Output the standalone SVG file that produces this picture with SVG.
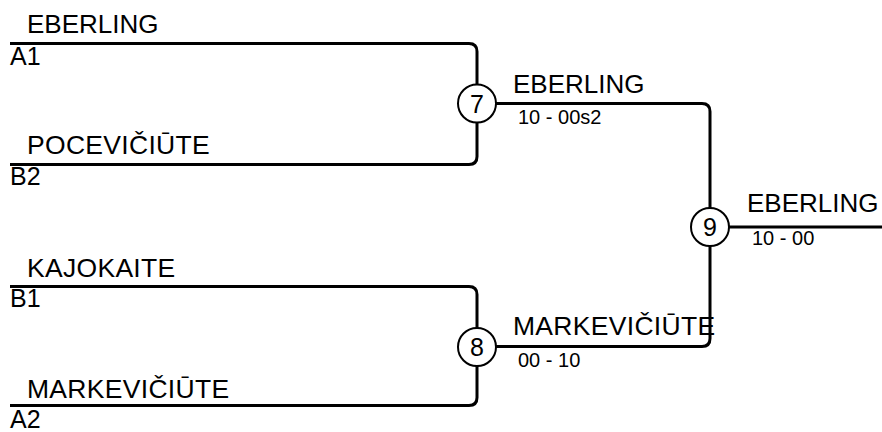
<svg xmlns="http://www.w3.org/2000/svg" width="882" height="432" viewBox="0 0 882 432">
<style>
.ln{fill:none;stroke:#000;stroke-width:3}
.c{fill:#fff;stroke:#000;stroke-width:2}
text{font-family:"Liberation Sans",Arial,sans-serif;fill:#000}
.nm{font-size:26.5px;letter-spacing:0.3px}
.nm.e{font-size:26px;letter-spacing:0}
.sd{font-size:25px}
.sc{font-size:20px}
.num{font-size:25px;text-anchor:middle}
</style>
<rect width="882" height="432" fill="#fff"/>
<g id="connectors">
<path class="ln" d="M10,43.5 H469 Q477,43.5 477,51.5 V84"/>
<path class="ln" d="M10,164.5 H469 Q477,164.5 477,156.5 V122"/>
<path class="ln" d="M496,103.5 H702 Q710,103.5 710,111.5 V208"/>
<path class="ln" d="M10,286.5 H469 Q477,286.5 477,294.5 V328"/>
<path class="ln" d="M10,405.5 H469 Q477,405.5 477,397.5 V366"/>
<path class="ln" d="M496,346.5 H702 Q710,346.5 710,338.5 V246"/>
<path class="ln" d="M729,227 H882"/>
</g>
<g id="entry-A1">
<text class="nm e" x="27" y="33">EBERLING</text>
<text class="sd" x="10" y="65">A1</text>
</g>
<g id="entry-B2">
<text class="nm" x="27" y="154">POCEVIČIŪTE</text>
<text class="sd" x="10" y="185">B2</text>
</g>
<g id="entry-B1">
<text class="nm" x="27" y="277">KAJOKAITE</text>
<text class="sd" x="10" y="307">B1</text>
</g>
<g id="entry-A2">
<text class="nm" x="27" y="398">MARKEVIČIŪTE</text>
<text class="sd" x="10" y="428">A2</text>
</g>
<g id="match-7">
<circle class="c" cx="477" cy="103.5" r="19"/>
<text class="num" x="477" y="112.5">7</text>
<text class="nm e" x="513" y="93">EBERLING</text>
<text class="sc" x="518" y="124">10 - 00s2</text>
</g>
<g id="match-8">
<circle class="c" cx="477" cy="347" r="19"/>
<text class="num" x="477" y="356">8</text>
<text class="nm" x="513" y="335">MARKEVIČIŪTE</text>
<text class="sc" x="518" y="367">00 - 10</text>
</g>
<g id="match-9">
<circle class="c" cx="710" cy="227" r="19"/>
<text class="num" x="710" y="236">9</text>
<text class="nm e" x="747" y="212">EBERLING</text>
<text class="sc" x="752" y="245">10 - 00</text>
</g>
</svg>
